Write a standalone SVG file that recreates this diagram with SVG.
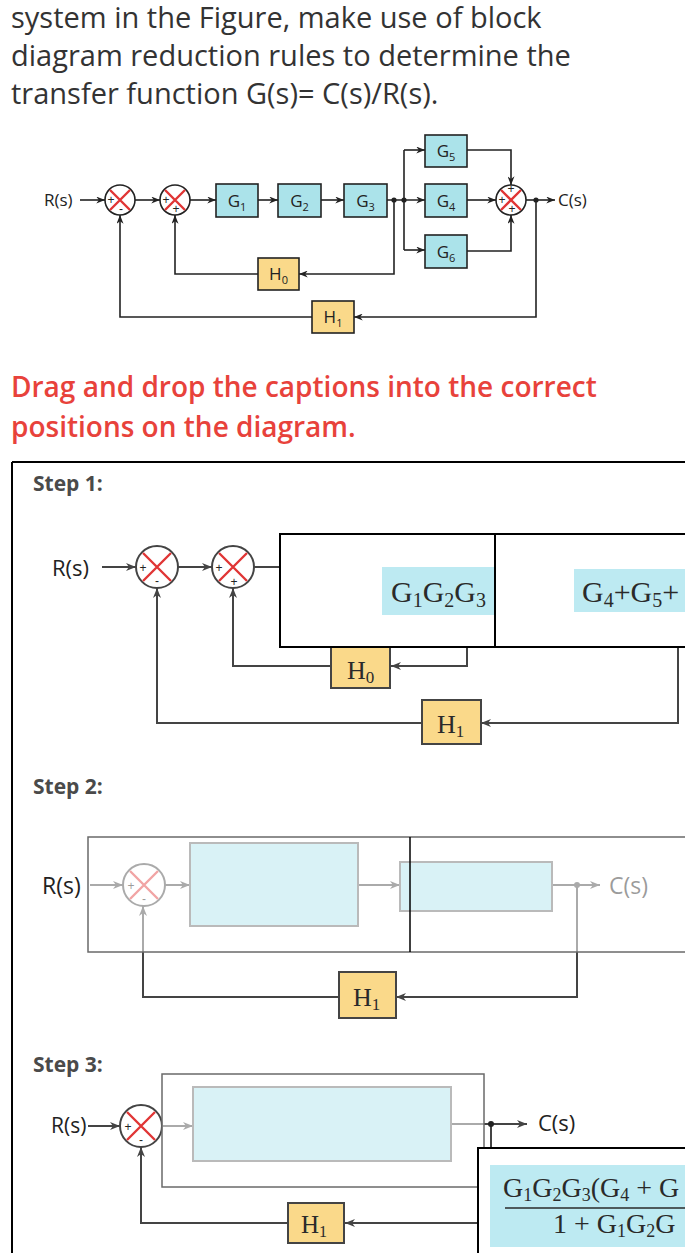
<svg xmlns="http://www.w3.org/2000/svg" width="685" height="1253" viewBox="0 0 685 1253">
<defs>
<style>
.hd{font-family:"Open Sans","Liberation Sans",sans-serif;font-size:29px;fill:#333}
.red{font-family:"Open Sans","Liberation Sans",sans-serif;font-size:28px;font-weight:600;fill:#e8423b}
.step{font-family:"Open Sans","Liberation Sans",sans-serif;font-size:21px;font-weight:700;fill:#4a4a4a}
.lbl{font-family:"Open Sans","Liberation Sans",sans-serif;fill:#222}
.ser{font-family:"Liberation Serif","DejaVu Serif",serif;fill:#2a2a2a}
.g{fill:#abe3ea;stroke:#222;stroke-width:1.6}
.h{fill:#fad98a;stroke:#222;stroke-width:1.6}
.gs{fill:#abe3ea;stroke:#666;stroke-width:2}
.hs{fill:#fad98a;stroke:#444;stroke-width:2}
.ln{fill:none;stroke:#222;stroke-width:1.6}
.ln2{fill:none;stroke:#444;stroke-width:2}
.sum{fill:#fff;stroke:#222;stroke-width:1.6}
.sum2{fill:#fff;stroke:#444;stroke-width:2}
.x{stroke:#e03535;stroke-width:2.4}
.pm{font-family:"Liberation Sans",sans-serif;font-size:12px;fill:#222;text-anchor:middle}
.ov{fill:#fff;fill-opacity:0.55;stroke:#6a6a6a;stroke-width:1.5}
.drop{fill:#fff;stroke:#000;stroke-width:2}
.cap{fill:#bdeaf2}
</style>
<marker id="a" viewBox="0 0 10 8" refX="10" refY="4" markerWidth="9" markerHeight="7" markerUnits="userSpaceOnUse" orient="auto"><path d="M0,0 L10,4 L0,8 L3,4 z" fill="#222"/></marker>
<marker id="b" viewBox="0 0 10 8" refX="10" refY="4" markerWidth="10" markerHeight="8" markerUnits="userSpaceOnUse" orient="auto"><path d="M0,0 L10,4 L0,8 L3,4 z" fill="#444"/></marker>
</defs>
<rect width="685" height="1253" fill="#fff"/>

<g id="header">
<text class="hd" x="11" y="28">system in the Figure, make use of block</text>
<text class="hd" x="11" y="66">diagram reduction rules to determine the</text>
<text class="hd" x="11" y="104">transfer function G(s)= C(s)/R(s).</text>
</g>

<!-- top diagram -->
<g id="top-connectors">
<path class="ln" marker-end="url(#a)" d="M80,200 H105"/>
<path class="ln" marker-end="url(#a)" d="M135,200 H160"/>
<path class="ln" marker-end="url(#a)" d="M190,200 H216"/>
<path class="ln" marker-end="url(#a)" d="M258,200 H278"/>
<path class="ln" marker-end="url(#a)" d="M321,200 H344"/>
<path class="ln" marker-end="url(#a)" d="M387,200 H425"/>
<path class="ln" d="M404,150 V250"/>
<path class="ln" marker-end="url(#a)" d="M404,150 H425"/>
<path class="ln" marker-end="url(#a)" d="M404,250 H425"/>
<path class="ln" marker-end="url(#a)" d="M467,150 H511 V185"/>
<path class="ln" marker-end="url(#a)" d="M467,251 H511 V215"/>
<path class="ln" marker-end="url(#a)" d="M467,200 H496"/>
<path class="ln" marker-end="url(#a)" d="M526,200 H555"/>
<path class="ln" marker-end="url(#a)" d="M394,200 V274 H299"/>
<path class="ln" marker-end="url(#a)" d="M258,274 H175 V215"/>
<path class="ln" marker-end="url(#a)" d="M536,200 V317 H354"/>
<path class="ln" marker-end="url(#a)" d="M312,317 H120 V215"/>
<circle cx="394" cy="200" r="2.6" fill="#222"/>
<circle cx="404" cy="200" r="2.6" fill="#222"/>
<circle cx="536" cy="200" r="2.6" fill="#222"/>
</g>
<g id="top-R"><text class="lbl" x="44" y="206" font-size="17">R(s)</text></g>
<g id="top-C"><text class="lbl" x="558" y="206" font-size="17">C(s)</text></g>
<g id="top-sum1"><circle class="sum" cx="120" cy="200" r="15"/><path class="x" d="M110,190 L130,210 M130,190 L110,210"/><text class="pm" x="111" y="204">+</text><text class="pm" x="121" y="213">-</text></g>
<g id="top-sum2"><circle class="sum" cx="175" cy="200" r="15"/><path class="x" d="M165,190 L185,210 M185,190 L165,210"/><text class="pm" x="166" y="204">+</text><text class="pm" x="176" y="213">+</text></g>
<g id="top-sum3"><circle class="sum" cx="511" cy="200" r="15"/><path class="x" d="M501,190 L521,210 M521,190 L501,210"/><text class="pm" x="511" y="193">+</text><text class="pm" x="502" y="204">+</text><text class="pm" x="512" y="213">+</text></g>
<g id="top-G1"><rect class="g" x="216" y="184" width="42" height="33"/><text class="lbl" x="237" y="207" font-size="17" text-anchor="middle">G<tspan font-size="11" dy="4">1</tspan></text></g>
<g id="top-G2"><rect class="g" x="278" y="184" width="43" height="33"/><text class="lbl" x="299.5" y="207" font-size="17" text-anchor="middle">G<tspan font-size="11" dy="4">2</tspan></text></g>
<g id="top-G3"><rect class="g" x="344" y="184" width="43" height="33"/><text class="lbl" x="365.5" y="207" font-size="17" text-anchor="middle">G<tspan font-size="11" dy="4">3</tspan></text></g>
<g id="top-G4"><rect class="g" x="425" y="184" width="42" height="33"/><text class="lbl" x="446" y="207" font-size="17" text-anchor="middle">G<tspan font-size="11" dy="4">4</tspan></text></g>
<g id="top-G5"><rect class="g" x="425" y="135" width="42" height="32"/><text class="lbl" x="446" y="157" font-size="17" text-anchor="middle">G<tspan font-size="11" dy="4">5</tspan></text></g>
<g id="top-G6"><rect class="g" x="425" y="235" width="42" height="33"/><text class="lbl" x="446" y="258" font-size="17" text-anchor="middle">G<tspan font-size="11" dy="4">6</tspan></text></g>
<g id="top-H0"><rect class="h" x="258" y="258" width="41" height="32"/><text class="lbl" x="278.5" y="280" font-size="17" text-anchor="middle">H<tspan font-size="11" dy="4">0</tspan></text></g>
<g id="top-H1"><rect class="h" x="312" y="301" width="42" height="32"/><text class="lbl" x="333" y="323" font-size="17" text-anchor="middle">H<tspan font-size="11" dy="4">1</tspan></text></g>

<g id="instruction">
<text class="red" x="11" y="397">Drag and drop the captions into the correct</text>
<text class="red" x="11" y="437">positions on the diagram.</text>
</g>

<g id="panel"><path d="M12,462 H685 M12,462 V1253" fill="none" stroke="#000" stroke-width="2"/></g>

<!-- Step 1 -->
<g id="step1-label"><text class="step" x="33" y="491">Step 1:</text></g>
<g id="step1-connectors">
<path class="ln2" marker-end="url(#b)" d="M102,567 H136"/>
<path class="ln2" marker-end="url(#b)" d="M178,567 H212"/>
<path class="ln2" d="M254,567 H282"/>
<path class="ln2" marker-end="url(#b)" d="M467,640 V666 H391"/>
<path class="ln2" marker-end="url(#b)" d="M331,666 H233 V588"/>
<path class="ln2" marker-end="url(#b)" d="M678,640 V723 H481"/>
<path class="ln2" marker-end="url(#b)" d="M422,723 H157 V588"/>
</g>
<g id="step1-R"><text class="lbl" x="52" y="576" font-size="22" fill="#333">R(s)</text></g>
<g id="step1-sum1"><circle class="sum2" cx="157" cy="567" r="21"/><path class="x" d="M143,553 L171,581 M171,553 L143,581" stroke-width="3"/><text class="pm" x="143" y="572" font-size="14">+</text><text class="pm" x="157" y="585" font-size="14">-</text></g>
<g id="step1-sum2"><circle class="sum2" cx="233" cy="567" r="21"/><path class="x" d="M219,553 L247,581 M247,553 L219,581" stroke-width="3"/><text class="pm" x="219" y="572" font-size="14">+</text><text class="pm" x="234" y="586" font-size="14">+</text></g>
<g id="step1-H0"><rect class="hs" x="331" y="642" width="59" height="46"/><text class="ser" x="347" y="679" font-size="26">H<tspan font-size="17" dy="4">0</tspan></text></g>
<g id="step1-H1"><rect class="hs" x="422" y="700" width="59" height="44"/><text class="ser" x="437" y="733" font-size="26">H<tspan font-size="17" dy="4">1</tspan></text></g>
<g id="step1-drop1"><rect class="drop" x="280" y="534" width="215" height="113"/><rect class="cap" x="382" y="567" width="112" height="48"/><text class="ser" x="391" y="602" font-size="30">G<tspan font-size="20" dy="5">1</tspan><tspan dy="-5">G</tspan><tspan font-size="20" dy="5">2</tspan><tspan dy="-5">G</tspan><tspan font-size="20" dy="5">3</tspan></text></g>
<g id="step1-drop2"><rect class="drop" x="495" y="534" width="200" height="113"/><rect class="cap" x="574" y="569" width="120" height="43"/><text class="ser" x="582" y="602" font-size="30">G<tspan font-size="20" dy="5">4</tspan><tspan dy="-5">+G</tspan><tspan font-size="20" dy="5">5</tspan><tspan dy="-5">+</tspan></text></g>

<!-- Step 2 -->
<g id="step2-label"><text class="step" x="33" y="794">Step 2:</text></g>
<g id="step2-R"><text class="lbl" x="42" y="894" font-size="23" fill="#333">R(s)</text></g>
<g id="step2-connectors">
<path class="ln2" marker-end="url(#b)" d="M90,885 H123"/>
<path class="ln2" marker-end="url(#b)" d="M165,885 H190"/>
<path class="ln2" marker-end="url(#b)" d="M358,885 H400"/>
<path class="ln2" marker-end="url(#b)" d="M552,885 H600"/>
<path class="ln2" marker-end="url(#b)" d="M577,885 V997 H396"/>
<path class="ln2" marker-end="url(#b)" d="M339,997 H143 V906"/>
<circle cx="577" cy="885" r="3" fill="#444"/>
</g>
<g id="step2-sum"><circle class="sum2" cx="144" cy="885" r="21"/><path class="x" d="M130,871 L158,899 M158,871 L130,899" stroke-width="3"/><text class="pm" x="131" y="890" font-size="14">+</text><text class="pm" x="144" y="903" font-size="14">-</text></g>
<g id="step2-block1"><rect class="gs" x="190" y="843" width="168" height="83"/></g>
<g id="step2-block2"><rect class="gs" x="400" y="862" width="152" height="49"/></g>
<g id="step2-C"><text class="lbl" x="609" y="894" font-size="23" fill="#333">C(s)</text></g>
<g id="step2-H1"><rect class="hs" x="339" y="972" width="57" height="46"/><text class="ser" x="353" y="1006" font-size="26">H<tspan font-size="17" dy="4">1</tspan></text></g>
<g id="step2-drop"><rect class="ov" x="88" y="837" width="610" height="115"/><path d="M410,837 V952" stroke="#000" stroke-width="1.5"/></g>

<!-- Step 3 -->
<g id="step3-label"><text class="step" x="33" y="1072">Step 3:</text></g>
<g id="step3-R"><text class="lbl" x="51" y="1133" font-size="21" fill="#333">R(s)</text></g>
<g id="step3-connectors">
<path class="ln2" marker-end="url(#b)" d="M88,1126 H120"/>
<path class="ln2" marker-end="url(#b)" d="M162,1126 H193"/>
<path class="ln2" marker-end="url(#b)" d="M451,1124 H527"/>
<path class="ln2" marker-end="url(#b)" d="M491,1124 V1223 H345"/>
<path class="ln2" marker-end="url(#b)" d="M288,1223 H141 V1147"/>
<circle cx="491" cy="1124" r="3" fill="#222"/>
</g>
<g id="step3-sum"><circle class="sum2" cx="141" cy="1126" r="21"/><path class="x" d="M127,1112 L155,1140 M155,1112 L127,1140" stroke-width="3"/><text class="pm" x="128" y="1131" font-size="14">+</text><text class="pm" x="141" y="1144" font-size="14">-</text></g>
<g id="step3-block"><rect class="gs" x="193" y="1087" width="258" height="74"/></g>
<g id="step3-box"><rect class="ov" x="162" y="1074" width="322" height="113"/></g>
<g id="step3-C"><text class="lbl" x="538" y="1131" font-size="22" fill="#333">C(s)</text></g>
<g id="step3-H1"><rect class="hs" x="288" y="1203" width="56" height="40"/><text class="ser" x="301" y="1233" font-size="25">H<tspan font-size="16" dy="4">1</tspan></text></g>
<g id="step3-drop"><rect class="drop" x="478" y="1148" width="220" height="120"/><rect class="cap" x="490" y="1165" width="200" height="82"/>
<text class="ser" x="503" y="1197" font-size="28">G<tspan font-size="18" dy="4">1</tspan><tspan dy="-4">G</tspan><tspan font-size="18" dy="4">2</tspan><tspan dy="-4">G</tspan><tspan font-size="18" dy="4">3</tspan><tspan dy="-4">(G</tspan><tspan font-size="18" dy="4">4</tspan><tspan dy="-4"> + G</tspan></text>
<path d="M505,1208 H690" stroke="#2a2a2a" stroke-width="1.6"/>
<text class="ser" x="553" y="1233" font-size="28">1 +  G<tspan font-size="18" dy="4">1</tspan><tspan dy="-4">G</tspan><tspan font-size="18" dy="4">2</tspan><tspan dy="-4">G</tspan></text>
</g>
</svg>
